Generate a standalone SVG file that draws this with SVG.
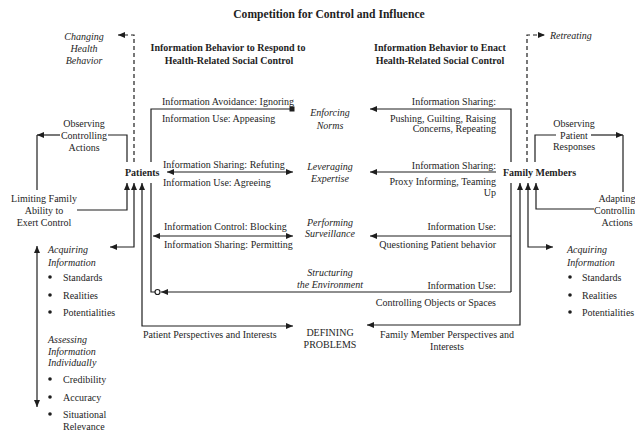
<svg xmlns="http://www.w3.org/2000/svg" width="635" height="434" viewBox="0 0 635 434">
<style>
text{font-family:"Liberation Serif","Times New Roman",serif;font-size:10px;fill:#1e1e1e}
.b{font-weight:bold}
.i{font-style:italic}
.t{font-size:11.6px;font-weight:bold}
.m{text-anchor:middle}
.e{text-anchor:end}
.ln{fill:none;stroke:#1e1e1e;stroke-width:1.2}
.d{stroke-dasharray:4 3}
</style>
<defs>
<marker id="ah" markerUnits="userSpaceOnUse" markerWidth="8" markerHeight="6" refX="7" refY="3" orient="auto-start-reverse"><path d="M0,0L7,3L0,6z" fill="#1e1e1e"/></marker>
<marker id="sq" markerUnits="userSpaceOnUse" markerWidth="6" markerHeight="6" refX="3" refY="3" orient="auto"><rect x="0.5" y="0.5" width="5" height="5" fill="#1e1e1e"/></marker>
</defs>
<rect width="635" height="434" fill="#fff"/>
<g id="connectors">
<path class="ln d" d="M134,162V35H118" marker-end="url(#ah)"/>
<path class="ln d" d="M527,162V35H545" marker-end="url(#ah)"/>
<path class="ln" d="M127,162V135H108"/>
<path class="ln" d="M60,135H37" marker-end="url(#ah)"/>
<path class="ln" d="M37,135V190"/>
<path class="ln" d="M77,210H127V183" marker-end="url(#ah)"/>
<path class="ln" d="M134,183V247H110" marker-start="url(#ah)" marker-end="url(#ah)"/>
<path class="ln" d="M142,183V326H293" marker-start="url(#ah)" marker-end="url(#ah)"/>
<path class="ln" d="M151,162V109H292" marker-end="url(#sq)"/>
<path class="ln" d="M151,183V292H155"/>
<path class="ln" d="M511,292H161" marker-end="url(#ah)"/>
<circle cx="157.5" cy="292" r="2.5" fill="#fff" stroke="#1e1e1e" stroke-width="1.2"/>
<path class="ln" d="M167,172H293" marker-start="url(#ah)" marker-end="url(#ah)"/>
<path class="ln" d="M153,236H293" marker-start="url(#ah)" marker-end="url(#ah)"/>
<path class="ln" d="M511,162V109H370" marker-end="url(#ah)"/>
<path class="ln" d="M496,172H370" marker-end="url(#ah)"/>
<path class="ln" d="M511,183V292"/>
<path class="ln" d="M511,236H370" marker-end="url(#ah)"/>
<path class="ln" d="M520,183V325H367" marker-start="url(#ah)" marker-end="url(#ah)"/>
<path class="ln" d="M528,183V247H553" marker-start="url(#ah)" marker-end="url(#ah)"/>
<path class="ln" d="M536,183V209H594" marker-start="url(#ah)"/>
<path class="ln" d="M535,162V135H556"/>
<path class="ln" d="M591,135H623" marker-end="url(#ah)"/>
<path class="ln" d="M623,135V192"/>
<path class="ln" d="M37,246V407" marker-start="url(#ah)" marker-end="url(#ah)"/>
</g>
<g id="title"><text class="t m" x="329" y="18">Competition for Control and Influence</text></g>
<g id="header-left"><text class="b m" x="228" y="50.5">Information Behavior to Respond to</text><text class="b m" x="229" y="63.5">Health-Related Social Control</text></g>
<g id="header-right"><text class="b m" x="440" y="50.5">Information Behavior to Enact</text><text class="b m" x="440" y="63.5">Health-Related Social Control</text></g>
<g id="changing"><text class="i m" x="84" y="39.5">Changing</text><text class="i m" x="84" y="51.5">Health</text><text class="i m" x="84" y="64">Behavior</text></g>
<g id="retreating"><text class="i" x="550" y="38.5">Retreating</text></g>
<g id="observing-controlling"><text class="m" x="84" y="126.5">Observing</text><text class="m" x="84" y="139">Controlling</text><text class="m" x="84" y="150.5">Actions</text></g>
<g id="limiting"><text class="m" x="44" y="201.5">Limiting Family</text><text class="m" x="44" y="214">Ability to</text><text class="m" x="44" y="225.5">Exert Control</text></g>
<g id="patients"><text class="b" x="125" y="175.5">Patients</text></g>
<g id="family"><text class="b" x="503" y="175.5">Family Members</text></g>
<g id="observing-patient"><text class="m" x="574" y="126.5">Observing</text><text class="m" x="574" y="138.5">Patient</text><text class="m" x="574" y="150">Responses</text></g>
<g id="adapting"><text class="m" x="617" y="201.5">Adapting</text><text x="594" y="214">Controllin</text><text class="m" x="617" y="225.5">Actions</text></g>
<g id="left-labels">
<text x="162" y="104.5">Information Avoidance: Ignoring</text>
<text x="162" y="121.5">Information Use: Appeasing</text>
<text x="163" y="167.5">Information Sharing: Refuting</text>
<text x="163" y="185.5">Information Use: Agreeing</text>
<text x="164" y="229.5">Information Control: Blocking</text>
<text x="164" y="247.5">Information Sharing: Permitting</text>
<text x="143" y="337.5">Patient Perspectives and Interests</text>
</g>
<g id="right-labels">
<text class="e" x="496" y="104.5">Information Sharing:</text>
<text class="e" x="496" y="121.5">Pushing, Guilting, Raising</text>
<text class="e" x="496" y="131.5">Concerns, Repeating</text>
<text class="e" x="496" y="168.5">Information Sharing:</text>
<text class="e" x="496" y="184.5">Proxy Informing, Teaming</text>
<text class="e" x="496" y="195.5">Up</text>
<text class="e" x="496" y="229.5">Information Use:</text>
<text class="e" x="496" y="247.5">Questioning Patient behavior</text>
<text class="e" x="496" y="289">Information Use:</text>
<text class="e" x="496" y="305.5">Controlling Objects or Spaces</text>
<text class="m" x="447" y="337.5">Family Member Perspectives and</text>
<text class="m" x="447" y="349.5">Interests</text>
</g>
<g id="enforcing"><text class="i m" x="330" y="116">Enforcing</text><text class="i m" x="330" y="129">Norms</text></g>
<g id="leveraging"><text class="i m" x="330" y="170">Leveraging</text><text class="i m" x="330" y="181.5">Expertise</text></g>
<g id="performing"><text class="i m" x="330" y="225.5">Performing</text><text class="i m" x="330" y="237">Surveillance</text></g>
<g id="structuring"><text class="i m" x="330" y="275.5">Structuring</text><text class="i m" x="330" y="287.5">the Environment</text></g>
<g id="defining"><text class="m" x="330" y="335.5">DEFINING</text><text class="m" x="330" y="347.5">PROBLEMS</text></g>
<g id="left-acquiring">
<text class="i" x="48" y="253">Acquiring</text><text class="i" x="48" y="265.5">Information</text>
<circle cx="50" cy="277" r="1.8" fill="#1e1e1e"/><text x="63" y="280.5">Standards</text>
<circle cx="50" cy="295" r="1.8" fill="#1e1e1e"/><text x="63" y="298.5">Realities</text>
<circle cx="50" cy="312" r="1.8" fill="#1e1e1e"/><text x="63" y="315.5">Potentialities</text>
</g>
<g id="left-assessing">
<text class="i" x="48" y="342.5">Assessing</text><text class="i" x="48" y="354.5">Information</text><text class="i" x="48" y="366">Individually</text>
<circle cx="50" cy="379" r="1.8" fill="#1e1e1e"/><text x="63" y="382.5">Credibility</text>
<circle cx="50" cy="397" r="1.8" fill="#1e1e1e"/><text x="63" y="400.5">Accuracy</text>
<circle cx="50" cy="414" r="1.8" fill="#1e1e1e"/><text x="63" y="417.5">Situational</text><text x="63" y="429.5">Relevance</text>
</g>
<g id="right-acquiring">
<text class="i" x="567" y="253">Acquiring</text><text class="i" x="567" y="265.5">Information</text>
<circle cx="570" cy="277" r="1.8" fill="#1e1e1e"/><text x="582" y="280.5">Standards</text>
<circle cx="570" cy="295" r="1.8" fill="#1e1e1e"/><text x="582" y="298.5">Realities</text>
<circle cx="570" cy="312" r="1.8" fill="#1e1e1e"/><text x="582" y="315.5">Potentialities</text>
</g>
</svg>
